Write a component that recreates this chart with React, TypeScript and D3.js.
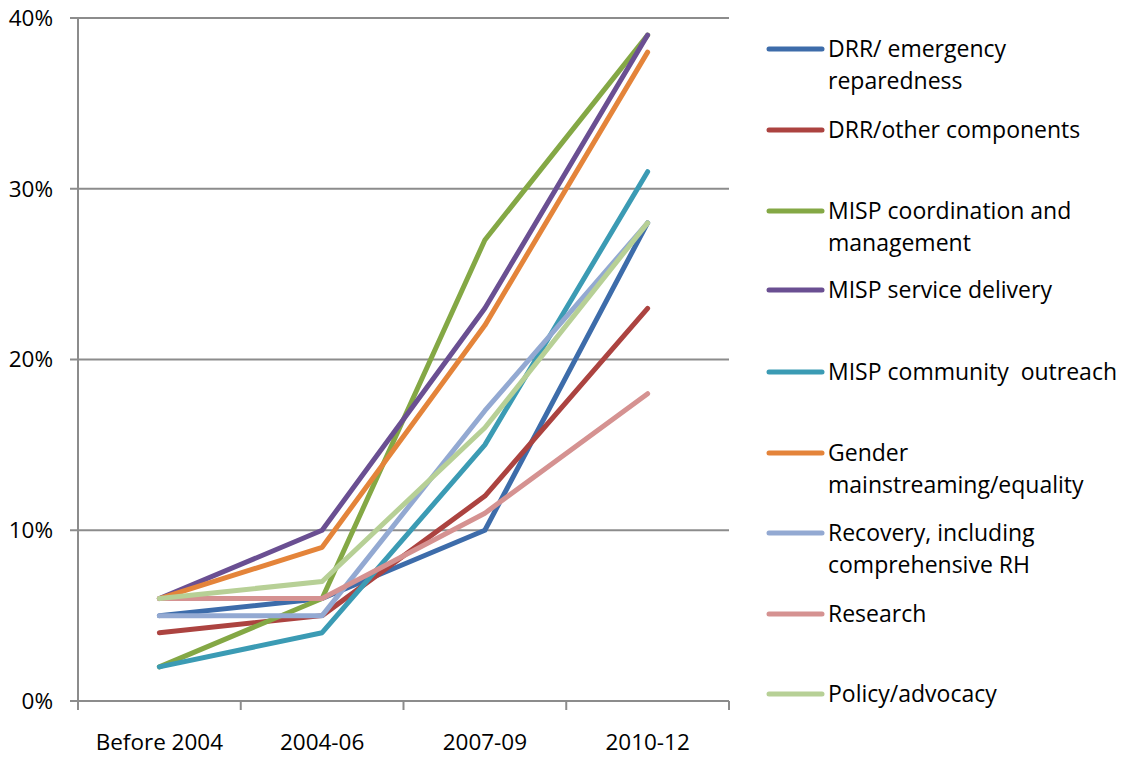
import React from "react";
import * as d3 from "d3";

const categories = ["Before 2004", "2004-06", "2007-09", "2010-12"];
const seriesNames = [
  ["DRR/ emergency", "reparedness"],
  ["DRR/other components"],
  ["MISP coordination and", "management"],
  ["MISP service delivery"],
  ["MISP community  outreach"],
  ["Gender", "mainstreaming/equality"],
  ["Recovery, including", "comprehensive RH"],
  ["Research"],
  ["Policy/advocacy"],
];
const drrEmergency = [5, 6, 10, 28];
const drrOther = [4, 5, 12, 23];
const mispCoordination = [2, 6, 27, 39];
const mispService = [6, 10, 23, 39];
const mispOutreach = [2, 4, 15, 31];
const gender = [6, 9, 22, 38];
const recovery = [5, 5, 17, 28];
const research = [6, 6, 11, 18];
const policy = [6, 7, 16, 28];
const yTicks = [0, 10, 20, 30, 40];
const colors = ["#3D6CAA", "#AC4340", "#84A845", "#6A4F92", "#3B9BB4", "#E4843A", "#93A9D2", "#D59291", "#B7D096"];

const allSeries = [drrEmergency, drrOther, mispCoordination, mispService, mispOutreach, gender, recovery, research, policy];

export default function App() {
  const W = 1123, H = 757;
  const left = 78, right = 729, top = 18, bottom = 701;
  const x = d3.scaleBand().domain(categories).range([left, right]);
  const y = d3.scaleLinear().domain([0, 40]).range([bottom, top]);
  const line = d3.line<number>().x((_, i) => x(categories[i])! + x.bandwidth() / 2).y((d) => y(d));
  const font = "'Open Sans', sans-serif";
  const legendYs = [49, 130, 211, 290, 372, 453, 533, 614, 694];
  const tickXs = [...categories.map((c) => x(c)!), right];
  return (
    <svg width={W} height={H} style={{ position: "absolute", left: 0, top: 0, background: "#fff" }} fontFamily={font}>
      {yTicks.map((t) => (
        <g key={t}>
          <line x1={70} x2={right} y1={y(t)} y2={y(t)} stroke="#8c8c8c" strokeWidth={2} />
          <text x={53} y={y(t)} dy="0.35em" textAnchor="end" fontSize={22.5} fill="#000">{t}%</text>
        </g>
      ))}
      <line x1={left} x2={left} y1={top} y2={bottom + 9} stroke="#8c8c8c" strokeWidth={2} />
      {tickXs.map((tx, i) => (
        <line key={i} x1={tx} x2={tx} y1={bottom} y2={bottom + 9} stroke="#8c8c8c" strokeWidth={2} />
      ))}
      {categories.map((c) => (
        <text key={c} x={x(c)! + x.bandwidth() / 2} y={750} textAnchor="middle" fontSize={22.5} fill="#000">{c}</text>
      ))}
      {allSeries.map((s, i) => (
        <path key={i} d={line(s)!} fill="none" stroke={colors[i]} strokeWidth={5} strokeLinejoin="round" strokeLinecap="round" />
      ))}
      {seriesNames.map((lines, i) => (
        <g key={i}>
          <line x1={769} x2={822} y1={legendYs[i]} y2={legendYs[i]} stroke={colors[i]} strokeWidth={5} strokeLinecap="round" />
          {lines.map((t, j) => (
            <text key={j} x={828} y={legendYs[i] + j * 32} dy="0.35em" fontSize={23} fill="#000" style={{ whiteSpace: "pre" }}>{t}</text>
          ))}
        </g>
      ))}
    </svg>
  );
}
